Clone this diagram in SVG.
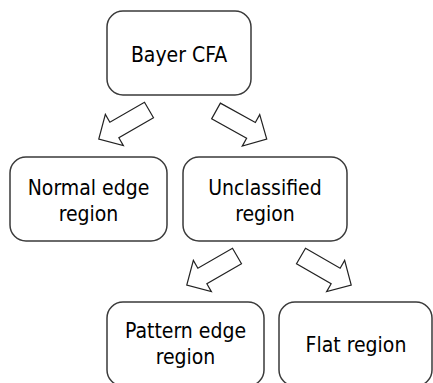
<svg xmlns="http://www.w3.org/2000/svg" xmlns:xlink="http://www.w3.org/1999/xlink" width="433" height="383" viewBox="0 0 433 383">
<style>
.box{fill:#fff;stroke:#3a3a3a;stroke-width:1.5}
.lbl{font-family:'DejaVu Sans Condensed','DejaVu Sans',sans-serif;font-stretch:condensed;font-size:21px;fill:#000;text-anchor:middle}
.arr{fill:#fff;stroke:#222;stroke-width:1.2;stroke-linejoin:miter}
</style>
<defs>
<path id="blk" d="M0,-9 L40,-9 L40,-18 L58,0 L40,18 L40,9 L0,9 Z"/>
</defs>
<rect width="433" height="383" fill="#fff"/>
<g id="connectors">
<use xlink:href="#blk" class="arr" transform="translate(149,110) rotate(150)"/>
<use xlink:href="#blk" class="arr" transform="translate(216,111) rotate(29)"/>
<use xlink:href="#blk" class="arr" transform="translate(237,256) rotate(150)"/>
<use xlink:href="#blk" class="arr" transform="translate(301,256) rotate(30)"/>
</g>
<g id="bayer">
<rect class="box" x="107" y="11" width="144" height="84" rx="16"/>
<text class="lbl" x="179" y="62">Bayer CFA</text>
</g>
<g id="normal">
<rect class="box" x="10" y="157" width="157" height="84" rx="16"/>
<text class="lbl" x="88.5" y="195">Normal edge</text>
<text class="lbl" x="88.5" y="221">region</text>
</g>
<g id="unclassified">
<rect class="box" x="183" y="157" width="164" height="84" rx="16"/>
<text class="lbl" x="265" y="195">Unclassified</text>
<text class="lbl" x="265" y="221">region</text>
</g>
<g id="pattern">
<rect class="box" x="107" y="302" width="157" height="84" rx="16"/>
<text class="lbl" x="185.5" y="338">Pattern edge</text>
<text class="lbl" x="185.5" y="364">region</text>
</g>
<g id="flat">
<rect class="box" x="279" y="302" width="153" height="84" rx="16"/>
<text class="lbl" x="356" y="352">Flat region</text>
</g>
</svg>
